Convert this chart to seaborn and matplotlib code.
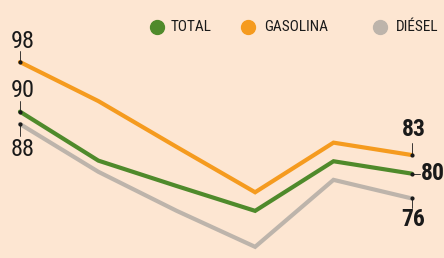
import matplotlib
matplotlib.use("Agg")
import matplotlib.pyplot as plt
import seaborn as sns
import pandas as pd
from matplotlib import font_manager

periods = ["P1", "P2", "P3", "P4", "P5", "P6"]
total = [90, 82.1, 78.0, 74.0, 82.0, 80]
gasolina = [98, 91.7, 84.3, 77.0, 85.0, 83]
diesel = [88, 80.3, 74.0, 68.2, 79.0, 76]
series_names = ["TOTAL", "GASOLINA", "DIÉSEL"]
colors = ["#4F8A2B", "#F59B1F", "#BDB4AB"]
bg = "#FDE6D2"

names = {f.name for f in font_manager.fontManager.ttflist}
cond = [f for f in ["Liberation Sans Narrow", "DejaVu Sans Condensed", "Roboto Condensed", "Liberation Sans"] if f in names]
cond = cond + ["DejaVu Sans"]

sns.set_theme(style="white")
plt.rcParams["font.family"] = cond

df = pd.DataFrame({
    "x": list(range(len(periods))) * 3,
    "valor": total + gasolina + diesel,
    "serie": [series_names[0]] * 6 + [series_names[1]] * 6 + [series_names[2]] * 6,
})

fig = plt.figure(figsize=(4.44, 2.58), dpi=100)
fig.patch.set_facecolor(bg)
ax = fig.add_axes([0, 0, 1, 1])
ax.set_facecolor(bg)

order = [series_names[2], series_names[0], series_names[1]]
pal = dict(zip(series_names, colors))
sns.lineplot(data=df, x="x", y="valor", hue="serie", hue_order=order, palette=pal,
             lw=3.0, ax=ax, legend=False, solid_joinstyle="miter")

ax.set_xlim(-0.255, 5.41)
ax.set_ylim(66.4, 108.0)
ax.axis("off")

dark = "#1a1a1a"
# start labels
for vals, dy, tick, va in [(gasolina, 1.5, 1.7, "bottom"), (total, 1.5, 1.7, "bottom"),
                           (diesel, -2.3, -1.9, "top")]:
    v = vals[0]
    ax.plot([0, 0], [v, v + tick], color=dark, lw=0.6)
    ax.plot([0], [v], "o", color=dark, ms=2)
    ax.text(-0.115, v + dy, f"{v:.0f}", ha="left", va=va, fontsize=17.5, color=dark)

# end labels
n = len(periods) - 1
for vals, mode in [(gasolina, "up"), (total, "right"), (diesel, "down")]:
    v = vals[n]
    ax.plot([n], [v], "o", color=dark, ms=2)
    if mode == "up":
        ax.plot([n, n], [v, v + 2.0], color=dark, lw=0.6)
        ax.text(n + 0.02, v + 2.2, f"{v:.0f}", ha="center", va="bottom", fontsize=17,
                fontweight="bold", color=dark)
    elif mode == "down":
        ax.plot([n, n], [v, v - 1.6], color=dark, lw=0.6)
        ax.text(n + 0.02, v - 1.6, f"{v:.0f}", ha="center", va="top", fontsize=17,
                fontweight="bold", color=dark)
    else:
        ax.plot([n, n + 0.1], [v, v], color=dark, lw=0.6)
        ax.text(n + 0.11, v, f"{v:.0f}", ha="left", va="center", fontsize=17,
                fontweight="bold", color=dark)

# legend
leg_items = [(157, 171, series_names[0], colors[0]),
             (248, 264, series_names[1], colors[1]),
             (380, 396, series_names[2], colors[2])]
for mx, tx, label, c in leg_items:
    ax.plot([mx / 444], [1 - 27 / 258], "o", ms=10, color=c, transform=ax.transAxes,
            clip_on=False)
    ax.text(tx / 444, 1 - 27 / 258, label, ha="left", va="center", fontsize=11,
            color=dark, transform=ax.transAxes)

fig.savefig("out.png", dpi=100, facecolor=bg)
